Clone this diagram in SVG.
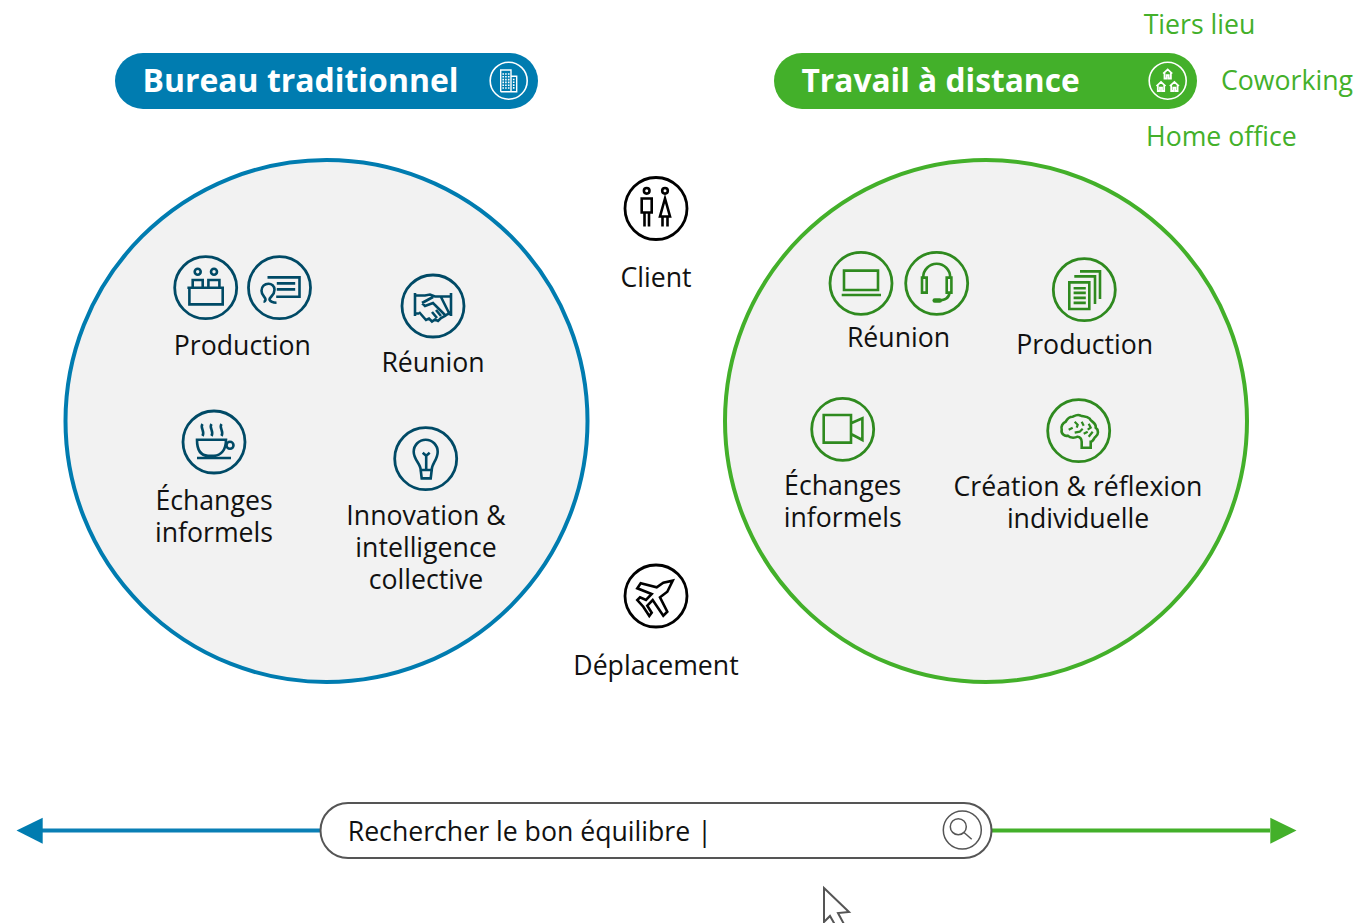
<svg xmlns="http://www.w3.org/2000/svg" width="1364" height="923" viewBox="0 0 1364 923">
<style>
text{font-family:"Open Sans","Liberation Sans",sans-serif;font-size:26.67px;fill:#111;text-anchor:middle}
.big{fill:#f2f2f2;stroke-width:4}
.ring{fill:none;stroke-width:2.800}
.ic{fill:none;stroke-width:2.600;stroke-linejoin:miter;stroke-linecap:butt}
.b{stroke:#004a66}
.g{stroke:#2f8a1f}
.k{stroke:#000}
.title{font-weight:700;font-size:31.700px;fill:#fff;text-anchor:start}
.loc{fill:#43b02a;text-anchor:start}
</style>
<defs>
<g id="house"><path d="M-4.500 -0.500L0 -4.800L4.500 -0.500M-3.200 -1.500V4.300H-1V1H1V4.300H3.200V-1.500" fill="none" stroke="#fff" stroke-width="1.800"/></g>
</defs>
<g id="connectors">
<path d="M42 830.500H320" stroke="#0a7fb5" stroke-width="4" fill="none"/>
<path d="M16.500 830.500L42.700 817.700V843.700Z" fill="#007cb0"/>
<path d="M992 830.500H1270" stroke="#43b02a" stroke-width="4" fill="none"/>
<path d="M1296.500 830.500L1270.300 817.700V843.700Z" fill="#43b02a"/>
</g>
<g id="circle-bureau"><circle class="big" cx="326.500" cy="421" r="261" stroke="#007cb0"/></g>
<g id="circle-distance"><circle class="big" cx="986" cy="421" r="261" stroke="#43b02a"/></g>
<g id="pill-bureau">
<rect x="115" y="53" width="423" height="56" rx="28" fill="#007cb0"/>
<text class="title" x="142.500" y="92" style="font-size:31.950px">Bureau traditionnel</text>
<g transform="translate(508.700 80.700)">
<circle r="18.500" fill="none" stroke="#fff" stroke-width="1.600"/>
<path d="M-8 11V-10.700H2.300V11H8V-4.500H2.300M-8 11H8" fill="none" stroke="#fff" stroke-width="1.400"/>
<path d="M-5.500 -7.500V9M-2.800 -7.500V9M0 -7.500V9M5 -2V9" fill="none" stroke="#fff" stroke-width="1.600" stroke-dasharray="1.600 1.200"/>
</g>
</g>
<g id="pill-distance">
<rect x="774" y="53" width="423" height="56" rx="28" fill="#43b02a"/>
<text class="title" x="801.500" y="92">Travail à distance</text>
<g transform="translate(1167.700 80.700)">
<circle r="18.500" fill="none" stroke="#fff" stroke-width="1.600"/>
<use href="#house" x="0" y="-6.500"/><use href="#house" x="-6.700" y="6"/><use href="#house" x="6.700" y="6"/>
</g>
</g>
<g id="loc-tiers"><text class="loc" x="1143.700" y="33.500">Tiers lieu</text></g>
<g id="loc-coworking"><text class="loc" x="1221" y="89.500">Coworking</text></g>
<g id="loc-home"><text class="loc" x="1146" y="145.500">Home office</text></g>

<g id="bureau-production">
<g transform="translate(205.700 287.700)">
<circle class="ring b" r="31"/>
<g class="ic b"><circle cx="-8" cy="-16" r="3"/><circle cx="8.300" cy="-16" r="3"/><path d="M-18.300 0H18.300M-16.300 0V16.700H17V0M-13 0V-7.700H-3V0M2.700 0V-7.700H13.700V0"/></g>
</g>
<g transform="translate(279.500 287.700)">
<circle class="ring b" r="31"/>
<g class="ic b"><path d="M-12 -10.300H20V9H-3.300M-2.700 -4.300H15.700M-2.700 1.700H15.700M-3 15C-7 15 -9 14 -10 12C-10 9 -5 8 -5 2C-5 -2 -8 -4 -11 -4C-15 -4 -18 -1 -18 3C-18 8 -14 9 -14 12C-14 13 -15 14 -16 14"/></g>
</g>
<text x="242.300" y="354.500">Production</text>
</g>
<g id="bureau-reunion">
<g transform="translate(433 306)">
<circle class="ring b" r="31"/>
<g class="ic b"><path d="M-18 -13V10M18 -13V10M-18 -10.500H-8L-3 -11.500L2 -9.500H18M-18 7.500H-14M18 8H14M-14 6L-7 14L-4 12.500L-1 15.500L2 13.500L5 15L8 12L12 10L16 7L8 -9M-11 -3L0 -9M-11 -3L-8 0L0 -3L12 9M-1 6L4 12M3 4L8 10"/></g>
</g>
<text x="433" y="371.500">Réunion</text>
</g>
<g id="bureau-echanges">
<g transform="translate(214 442)">
<circle class="ring b" r="31"/>
<g class="ic b"><path d="M-17 -2.300H12C12 8 7 13.700 0 13.700H-6C-13 13.700 -17 8 -17 -2.300ZM-17 16H17M-11.500 -18C-14.500 -14 -8.500 -11 -11.500 -6M-2.500 -18C-5.500 -14 0.500 -11 -2.500 -6M7.500 -18C4.500 -14 10.500 -11 7.500 -6"/><circle cx="16" cy="3.300" r="3.500"/></g>
</g>
<text x="214" y="509.500">Échanges</text>
<text x="214" y="541.500">informels</text>
</g>
<g id="bureau-innovation">
<g transform="translate(425.700 458.700)">
<circle class="ring b" r="31"/>
<g class="ic b"><path d="M-5 11.300C-5 5 -12 1 -12 -7A12 12 0 0 1 12 -7C12 1 6 5 6 11.300ZM-5 11.300L-4 19.700H5L6 11.300M0.500 11.300V-4M-3 -6L0.500 -3L4 -6"/></g>
</g>
<text x="426" y="524.500">Innovation &amp;</text>
<text x="426" y="556.500">intelligence</text>
<text x="426" y="588.500">collective</text>
</g>
<g id="client">
<g transform="translate(656 208.500)">
<circle class="ring k" r="31"/>
<g class="ic k"><circle cx="-9.300" cy="-17.700" r="2.800"/><circle cx="9" cy="-17.700" r="2.800"/><path d="M-14.300 -10H-4.300V4H-14.300ZM-11.500 4V18M-7 4V18M9 -10L4 8H14ZM6.500 8V18M11.500 8V18"/></g>
</g>
<text x="656" y="286.500">Client</text>
</g>
<g id="deplacement">
<g transform="translate(656 596)">
<circle class="ring k" r="31"/>
<path class="ic k" d="M16.700 -15.300L11.300 -4.300L4 1.300L11.300 15.700L7.300 19.700L-3.300 4L-8.700 9.700L-4.300 16.700L-6.700 20L-12.700 10.700L-18.700 4L-16 1.300L-10 4L-4.300 -2L-18.700 -7.700L-15.300 -12.700L0.700 -8.700L7.300 -13.300Z"/>
</g>
<text x="656" y="674.500">Déplacement</text>
</g>
<g id="distance-reunion">
<g transform="translate(861 283.300)">
<circle class="ring g" r="31"/>
<g class="ic g"><path d="M-17 -12.700H17V6.700H-17ZM-19.300 11.700H20"/></g>
</g>
<g transform="translate(936.700 283.300)">
<circle class="ring g" r="31"/>
<g class="ic g"><path d="M-13.500 -5.700V-6A13.500 13.500 0 0 1 13.500 -6V-5.700M-14.700 -5.700H-10V9.300H-14.700ZM10 -5.700H14.700V9.300H10ZM12.700 9.300C12.700 15 8 17.300 0 17.300"/><path d="M-2 17.300H3" stroke-width="4.500" stroke-linecap="round"/></g>
</g>
<text x="898.500" y="347">Réunion</text>
</g>
<g id="distance-production">
<g transform="translate(1084.300 289.700)">
<circle class="ring g" r="31"/>
<g class="ic g"><path d="M-15 -7.300H5V19.300H-15ZM-10.700 -1.500H1.500M-10.700 3.200H1.500M-10.700 8.200H1.500M-10.700 13.200H1.500M-10 -13.300H10.700V14.300M-4.300 -18.300H15.700V9.300"/></g>
</g>
<text x="1084.700" y="353.500">Production</text>
</g>
<g id="distance-echanges">
<g transform="translate(842.700 429.300)">
<circle class="ring g" r="31"/>
<path class="ic g" d="M-19 -14.300H8.300V13.300H-19ZM8.300 -6L19.700 -11V10.700L8.300 4.700"/>
</g>
<text x="842.700" y="494.500">Échanges</text>
<text x="842.700" y="526.500">informels</text>
</g>
<g id="distance-creation">
<g transform="translate(1078.700 430.700)">
<circle class="ring g" r="31"/>
<g class="ic g"><path d="M3 17H12V11C15 11 15 7 17 6C20 4 20 -1 17 -3C18 -8 12 -9 11 -12C8 -15 4 -14 2 -15C-1 -17 -4 -15 -6 -14C-10 -14 -12 -11 -13 -9C-16 -8 -18 -4 -17 -1C-18 3 -14 6 -11 5C-8 8 -3 7 -1 6C1 6 3 8 3 11Z"/><path d="M-10 -1L-6 -3M-4 -9L-1 -6L-2 -3M3 -9L5 -5M-4 2L1 1L4 -2M5 3L9 1M10 -7L12 -3L9 -1M14 1L10 6" stroke-width="2.200"/></g>
</g>
<text x="1078" y="495.500">Création &amp; réflexion</text>
<text x="1078" y="527.500">individuelle</text>
</g>
<g id="search-bar">
<rect x="320.500" y="803" width="671" height="55" rx="27.500" fill="#fff" stroke="#555" stroke-width="2"/>
<text x="347.700" y="840.500" style="text-anchor:start">Rechercher le bon équilibre |</text>
<circle cx="962.300" cy="830" r="19" fill="none" stroke="#555" stroke-width="1.500"/>
<circle cx="958.300" cy="826.700" r="8" fill="none" stroke="#555" stroke-width="1.500"/>
<path d="M964 832.500L971.700 839.300" fill="none" stroke="#555" stroke-width="1.500"/>
</g>
<g id="cursor"><path d="M824 888L849 912L838 913L845 926L838 930L830 916L824 922Z" fill="#fff" stroke="#555" stroke-width="2"/></g>
</svg>
